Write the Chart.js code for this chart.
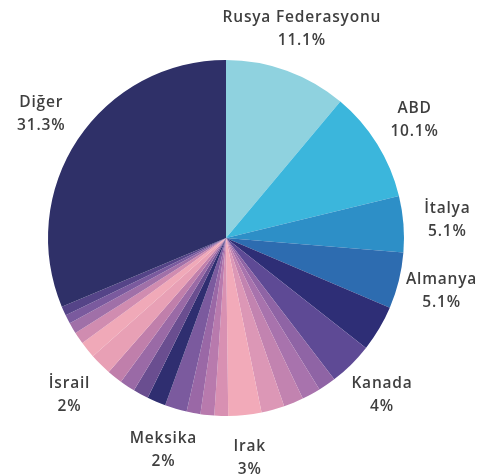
<!DOCTYPE html>
<html>
<head>
<meta charset="utf-8">
<script src="https://cdn.jsdelivr.net/npm/chart.js@4/dist/chart.umd.min.js"></script>
<style>
html,body{margin:0;padding:0;background:#fff;}
#wrap{width:490px;height:476px;position:relative;}
</style>
</head>
<body>
<div id="wrap"><canvas id="c" width="490" height="476"></canvas></div>
<script>
// Slices clockwise from 12 o'clock; empty label = unlabeled slice
const categories = ["Rusya Federasyonu","ABD","İtalya","Almanya","","Kanada","","","","","Irak","","","","Meksika","","","","","İsrail","","","","","","Diğer"];
const values = [11.1,10.1,5.1,5.1,4.2,4,1.6,1.7,1.8,2.1,3,1.25,1.25,1.25,2,1.7,1.4,1.4,1.4,2,1.5,1.1,1.0,0.8,0.85,31.3];
const valueLabels = ["11.1%","10.1%","5.1%","5.1%","","4%","","","","","3%","","","","2%","","","","","2%","","","","","","31.3%"];
const colors = ["#8fd2df","#3bb6dc","#2d8fc7","#2d6cb0","#2e2e76","#5e4a95","#8f64a5","#a873ad","#c283b0","#dc97b6","#f2aab9","#d890b2","#b87aad","#9a68a6","#7b5a9e","#2f2e70","#6a4e90","#9a6aa6","#c07fab","#e8a0b5","#f0a9b8","#d08cb0","#a070a8","#7a5a9e","#554488","#2f3068"];

const labelPlugin = {
  id: 'outerLabels',
  afterDatasetsDraw(chart) {
    const ctx = chart.ctx;
    const meta = chart.getDatasetMeta(0);
    ctx.save();
    ctx.fillStyle = '#3f3f3f';
    ctx.textAlign = 'center';
    ctx.textBaseline = 'middle';
    ctx.font = '600 15.5px "Open Sans", sans-serif';
    try { ctx.letterSpacing = '0.8px'; } catch (e) {}
    meta.data.forEach((arc, i) => {
      if (!categories[i]) return;
      const mid = (arc.startAngle + arc.endAngle) / 2;
      const r = arc.outerRadius + 44;
      const x = arc.x + Math.cos(mid) * r;
      const y = arc.y + Math.sin(mid) * r;
      ctx.fillText(categories[i], x, y - 12);
      ctx.fillText(valueLabels[i], x, y + 11);
    });
    ctx.restore();
  }
};

new Chart(document.getElementById('c'), {
  type: 'pie',
  data: {
    labels: categories.map((c,i)=> c || ('diğer-' + i)),
    datasets: [{
      data: values,
      backgroundColor: colors,
      borderWidth: 0
    }]
  },
  options: {
    responsive: false,
    animation: false,
    layout: { padding: { top: 60, bottom: 60, left: 48, right: 86 } },
    plugins: { legend: { display: false }, tooltip: { enabled: false } }
  },
  plugins: [labelPlugin]
});
</script>
</body>
</html>
